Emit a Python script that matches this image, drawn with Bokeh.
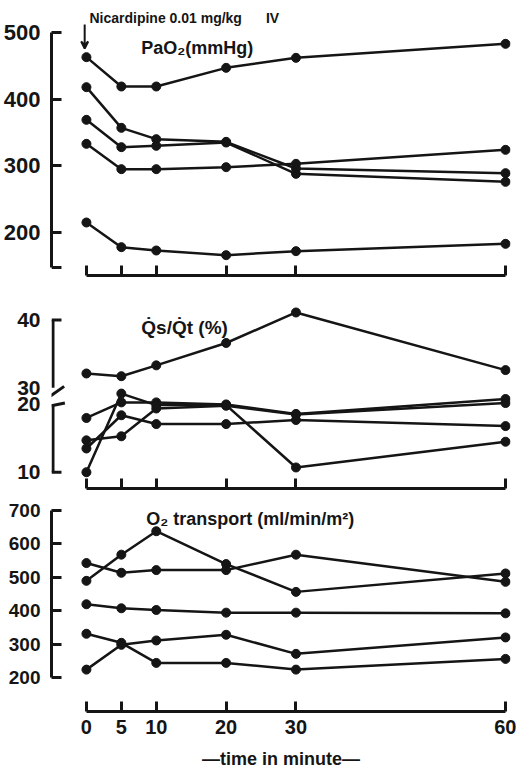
from bokeh.plotting import figure
from bokeh.layouts import column
from bokeh.models import FixedTicker, Label, Arrow, VeeHead, Range1d
from bokeh.embed import file_html
from bokeh.resources import INLINE

# ---------------- data ----------------
times = [0, 5, 10, 20, 30, 60]

# PaO2 (mmHg), one list per patient
pao2_1 = [463, 419, 419, 447, 462, 483]
pao2_2 = [418, 357, 340, 336, 296, 289]
pao2_3 = [369, 328, 330, 335, 288, 276]
pao2_4 = [333, 295, 295, 298, 303, 324]
pao2_5 = [215, 178, 173, 166, 172, 183]

# Qs/Qt (%)
shunt_1 = [32.1, 31.7, 33.3, 36.6, 41.1, 32.6]
shunt_2 = [18.0, 20.3, 20.3, 20.0, 18.6, 20.8]
shunt_3 = [10.0, 21.6, 19.9, 19.9, 10.7, 14.5]
shunt_4 = [14.7, 15.3, 19.4, 19.8, 18.5, 20.2]
shunt_5 = [13.5, 18.4, 17.1, 17.1, 17.7, 16.8]

# O2 transport (ml/min/m2)
o2t_1 = [490, 568, 638, 540, 457, 512]
o2t_2 = [543, 514, 522, 522, 568, 487]
o2t_3 = [420, 408, 403, 395, 395, 393]
o2t_4 = [332, 305, 245, 245, 225, 257]
o2t_5 = [225, 299, 312, 329, 272, 321]

pao2_ticks = [200, 300, 400, 500]
shunt_ticks = [10, 20, 30, 40]
o2t_ticks = [200, 300, 400, 500, 600, 700]
time_tick_labels = ["0", "5", "10", "20", "30", "60"]

# ---------------- style ----------------
INK = "#151515"
NUM_FONT = "Liberation Sans"
TXT_FONT = "Liberation Sans"
X0, X1 = -5.0, 60.71
PPX = 460 / (X1 - X0)  # pixels per minute
TICK = 10 / PPX        # tick length in minutes

# broken-axis mapping for the shunt panel
GAP = 2.46


def brk(v):
    return v if v <= 25 else v - 10 + GAP


def base_fig(height, y0, y1, top, bottom):
    p = figure(width=516, height=height, x_range=Range1d(X0, X1),
               y_range=Range1d(y0, y1), output_backend="svg",
               toolbar_location=None, min_border_left=50, min_border_right=6,
               min_border_top=top, min_border_bottom=bottom)
    p.outline_line_color = None
    p.xgrid.visible = False
    p.ygrid.visible = False
    p.background_fill_color = "white"
    p.border_fill_color = "white"
    xa = p.xaxis[0]
    xa.ticker = FixedTicker(ticks=times)
    xa.bounds = (0, 60)
    xa.axis_line_color = INK
    xa.axis_line_width = 3
    xa.major_tick_line_color = INK
    xa.major_tick_line_width = 3
    xa.major_tick_in = 10
    xa.major_tick_out = 0
    xa.minor_tick_line_color = None
    xa.major_label_text_font_size = "1px"
    xa.major_label_text_color = None
    xa.major_label_standoff = 0
    ya = p.yaxis[0]
    ya.axis_line_color = INK
    ya.axis_line_width = 3
    ya.major_tick_line_color = INK
    ya.major_tick_line_width = 3
    ya.major_tick_in = 10
    ya.major_tick_out = 0
    ya.minor_tick_line_color = None
    ya.major_label_text_font = NUM_FONT
    ya.major_label_text_font_style = "bold"
    ya.major_label_text_color = INK
    ya.major_label_standoff = 11
    return p


def draw(p, series):
    for ys in series:
        p.line(times, ys, line_color=INK, line_width=2.5)
        p.scatter(times, ys, size=9, fill_color=INK, line_color=INK)


def add_text(p, x, y, text, size):
    p.add_layout(Label(x=x, y=y, text=text, text_font=TXT_FONT,
                       text_font_size=size, text_font_style="bold",
                       text_color=INK, text_baseline="middle",
                       text_align="left"))


# ---------------- panel 1: PaO2 ----------------
p1 = base_fig(290, 135.5, 548, 0, 15)
cap1 = 147.5
ya1 = p1.yaxis[0]
ya1.ticker = FixedTicker(ticks=pao2_ticks)
ya1.bounds = (cap1, 500)
ya1.major_label_text_font_size = "22px"
# bottom end cap of the y axis bracket
p1.segment(x0=[X0], y0=[cap1], x1=[X0 + TICK], y1=[cap1],
           line_color=INK, line_width=3)
draw(p1, [pao2_1, pao2_2, pao2_3, pao2_4, pao2_5])
add_text(p1, 0.43, 522.5, "Nicardipine 0.01 mg/kg", "14px")
add_text(p1, 25.7, 522.5, "IV", "14px")
add_text(p1, 7.86, 477.5, "PaO\u2082(mmHg)", "18px")
p1.add_layout(Arrow(end=VeeHead(size=7, line_color=INK, line_width=2),
                    x_start=-0.25, y_start=512, x_end=-0.25, y_end=476,
                    line_color=INK, line_width=2))

# ---------------- panel 2: Qs/Qt ----------------
p2 = base_fig(202, 7.6, 36.8, 0, 4)
ya2 = p2.yaxis[0]
sh_pos = [brk(v) for v in shunt_ticks]
ya2.ticker = FixedTicker(ticks=sh_pos)
ya2.major_label_overrides = {pos: str(v) for pos, v in zip(sh_pos, shunt_ticks)}
ya2.major_label_text_font_size = "21px"
ya2.axis_line_color = None
ya2.major_tick_line_color = None
draw(p2, [[brk(v) for v in s] for s in [shunt_1, shunt_2, shunt_3, shunt_4, shunt_5]])
xa = X0 + 1.5 / PPX
# broken vertical axis line
p2.segment(x0=[xa, xa], y0=[brk(40), 20], x1=[xa, xa], y1=[brk(30), 10],
           line_color=INK, line_width=3)
# ticks: plain at 40 and 10, slanted at the break (30 / 20)
p2.segment(x0=[X0, X0, xa - 0.6, X0],
           y0=[brk(40), 10, brk(30) - 1.4, 19.8],
           x1=[X0 + TICK, X0 + TICK, xa + 1.6, xa + 1.7],
           y1=[brk(40), 10, brk(30) + 0.2, 20.2],
           line_color=INK, line_width=3)
add_text(p2, 7.86, 31.4, "Q\u0307s/Q\u0307t (%)", "19px")

# ---------------- panel 3: O2 transport ----------------
p3 = base_fig(279, 100, 729.7, 8, 59)
ya3 = p3.yaxis[0]
ya3.ticker = FixedTicker(ticks=o2t_ticks)
ya3.bounds = (200, 700)
ya3.major_label_text_font_size = "19px"
xa3 = p3.xaxis[0]
xa3.major_label_overrides = {t: lab for t, lab in zip(times, time_tick_labels)}
xa3.major_label_text_font = NUM_FONT
xa3.major_label_text_font_style = "bold"
xa3.major_label_text_font_size = "20px"
xa3.major_label_text_color = INK
xa3.major_label_standoff = 8
xa3.axis_label = "\u2014time in minute\u2014"
xa3.axis_label_text_font = TXT_FONT
xa3.axis_label_text_font_style = "bold"
xa3.axis_label_text_font_size = "18px"
xa3.axis_label_text_color = INK
xa3.axis_label_standoff = 12
draw(p3, [o2t_1, o2t_2, o2t_3, o2t_4, o2t_5])
add_text(p3, 8.57, 673.3, "O\u2082  transport (ml/min/m\u00b2)", "18px")

layout = column(p1, p2, p3)
with open("out.html", "w", encoding="utf-8") as f:
    f.write(file_html(layout, INLINE))
